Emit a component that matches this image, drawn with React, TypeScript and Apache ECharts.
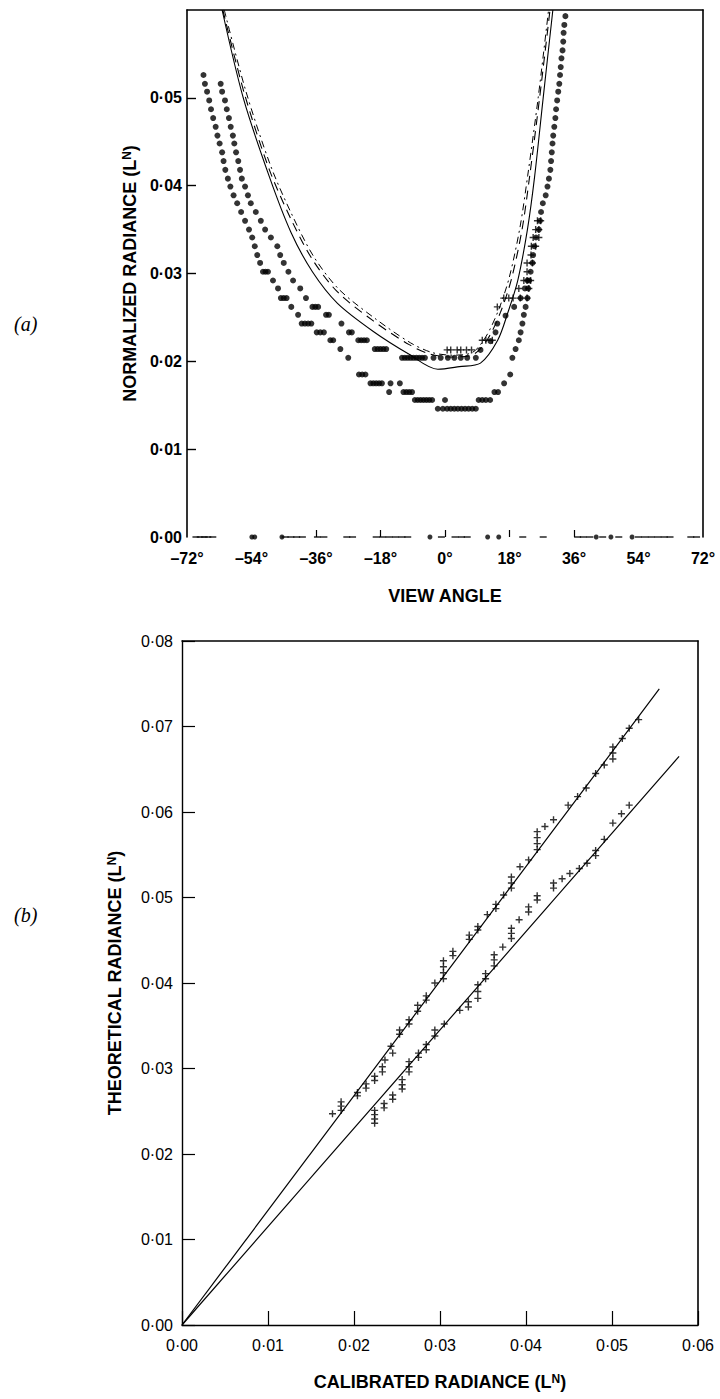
import React, { useEffect, useRef } from "react";
import * as echarts from "echarts";

// ---------- (a) view angle vs normalized radiance ----------
const angleTicks = [-72, -54, -36, -18, 0, 18, 36, 54, 72];
const curveSolid: [number, number][] = [
  [-62.2, 0.06], [-56.3, 0.05], [-49.0, 0.041], [-43.0, 0.0347], [-37.0, 0.0302], [-30.0, 0.0266],
  [-20.0, 0.0234], [-10.0, 0.0208], [-2.0, 0.0191], [4.0, 0.0194], [9.9, 0.0198], [14.7, 0.0224],
  [17.5, 0.0255], [20.3, 0.0292], [23.0, 0.035], [25.0, 0.041], [27.4, 0.05], [30.1, 0.06],
];
const curveDashed: [number, number][] = [
  [-62.0, 0.06], [-56.0, 0.0505], [-49.0, 0.0418], [-43.0, 0.0362], [-37.0, 0.0316], [-30.0, 0.0279],
  [-20.0, 0.0246], [-10.0, 0.0219], [-4.0, 0.0208], [2.0, 0.0205], [8.0, 0.0208], [12.0, 0.0226],
  [15.5, 0.0256], [18.5, 0.0293], [21.5, 0.035], [23.6, 0.041], [26.4, 0.05], [29.3, 0.06],
];
const curveDashDot: [number, number][] = [
  [-61.6, 0.06], [-55.6, 0.0508], [-48.6, 0.0422], [-42.6, 0.0366], [-36.6, 0.0319], [-29.6, 0.0282],
  [-19.6, 0.0249], [-9.6, 0.0221], [-3.6, 0.021], [2.0, 0.0207], [7.6, 0.021], [11.4, 0.0228],
  [14.9, 0.0258], [17.9, 0.0295], [20.9, 0.0352], [23.1, 0.0412], [26.0, 0.05], [28.9, 0.06],
];
const pointsLower: [number, number][] = [
  [-67.4, 0.0526], [-67.0, 0.0516], [-66.4, 0.0507], [-65.8, 0.0497], [-65.3, 0.0487], [-64.7, 0.0477],
  [-64.0, 0.0467], [-63.5, 0.0457], [-62.9, 0.0448], [-62.2, 0.0438], [-61.8, 0.0428], [-61.3, 0.0418],
  [-60.6, 0.0408], [-59.9, 0.0399], [-59.0, 0.0389], [-58.0, 0.038], [-56.9, 0.037], [-55.8, 0.036],
  [-54.7, 0.035], [-53.8, 0.0341], [-53.1, 0.0331], [-52.4, 0.0321], [-51.6, 0.0312], [-50.8, 0.0302],
  [-50.1, 0.0302], [-49.4, 0.0302], [-48.0, 0.0292], [-46.6, 0.0283], [-45.8, 0.0272], [-45.0, 0.0272],
  [-44.2, 0.0272], [-42.9, 0.0262], [-41.0, 0.0253], [-40.0, 0.0243], [-39.1, 0.0243], [-38.2, 0.0243],
  [-37.3, 0.0243], [-35.8, 0.0233], [-34.8, 0.0233], [-33.8, 0.0233], [-32.0, 0.0224], [-31.2, 0.0224],
  [-29.2, 0.0214], [-27.0, 0.0204], [-24.0, 0.0185], [-23.1, 0.0185], [-22.2, 0.0185], [-20.8, 0.0175],
  [-20.0, 0.0175], [-19.2, 0.0175], [-18.4, 0.0175], [-17.6, 0.0175], [-15.2, 0.0175], [-12.6, 0.0175],
  [-15.6, 0.0165], [-11.6, 0.0165], [-10.8, 0.0165], [-10.0, 0.0165], [-9.2, 0.0165], [-8.4, 0.0156],
  [-7.6, 0.0156], [-6.8, 0.0156], [-6.0, 0.0156], [-5.2, 0.0156], [-4.4, 0.0156], [-3.6, 0.0156],
  [0.0, 0.0156], [-2.0, 0.0146], [-0.6, 0.0146], [0.6, 0.0146], [1.6, 0.0146], [2.6, 0.0146],
  [3.6, 0.0146], [4.6, 0.0146], [5.6, 0.0146], [6.6, 0.0146], [7.6, 0.0146], [8.6, 0.0146],
  [9.4, 0.0156], [10.4, 0.0156], [11.4, 0.0156], [12.6, 0.0156], [13.8, 0.0165], [14.8, 0.0165],
  [16.5, 0.0175], [18.2, 0.0185], [18.8, 0.0204], [19.7, 0.0214], [20.6, 0.0224], [21.1, 0.0233],
  [21.6, 0.0243], [22.0, 0.0253], [22.5, 0.0262], [23.0, 0.0272], [23.2, 0.0283], [23.5, 0.0292],
  [23.9, 0.0302], [24.4, 0.0312], [24.6, 0.0321], [24.9, 0.0331], [25.4, 0.0341], [26.2, 0.035],
  [26.5, 0.036], [26.8, 0.037], [27.3, 0.038], [28.1, 0.0389], [28.6, 0.0399], [29.0, 0.0408],
  [29.4, 0.0418], [29.6, 0.0428], [29.8, 0.0438], [30.0, 0.0448], [30.2, 0.0457], [30.5, 0.0467],
  [30.8, 0.0477], [31.0, 0.0487], [31.3, 0.0497], [31.6, 0.0507], [31.9, 0.0516], [32.1, 0.0526],
  [32.3, 0.0535], [32.5, 0.0545], [32.8, 0.0554], [33.0, 0.0564], [33.1, 0.0574], [33.3, 0.0583],
  [33.6, 0.0593],
];
const pointsMiddle: [number, number][] = [
  [-62.6, 0.0516], [-62.2, 0.0507], [-61.4, 0.0497], [-60.9, 0.0487], [-60.3, 0.0477], [-59.8, 0.0467],
  [-59.2, 0.0457], [-58.8, 0.0448], [-58.3, 0.0438], [-57.7, 0.0428], [-57.2, 0.0418], [-56.7, 0.0408],
  [-55.8, 0.0399], [-55.0, 0.0389], [-54.2, 0.038], [-52.8, 0.037], [-51.4, 0.036], [-50.2, 0.035],
  [-48.6, 0.0341], [-46.8, 0.0331], [-46.0, 0.0321], [-45.0, 0.0312], [-43.7, 0.0302], [-42.4, 0.0292],
  [-40.4, 0.0283], [-38.8, 0.0272], [-37.0, 0.0262], [-36.2, 0.0262], [-35.4, 0.0262], [-33.2, 0.0253],
  [-32.4, 0.0253], [-28.9, 0.0243], [-26.8, 0.0233], [-26.0, 0.0233], [-24.2, 0.0224], [-23.4, 0.0224],
  [-22.6, 0.0224], [-21.8, 0.0224], [-19.6, 0.0214], [-18.8, 0.0214], [-18.0, 0.0214], [-17.2, 0.0214],
  [-16.4, 0.0214], [-12.0, 0.0204], [-11.2, 0.0204], [-10.4, 0.0204], [-9.6, 0.0204], [-8.8, 0.0204],
  [-8.0, 0.0204], [-7.2, 0.0204], [-6.4, 0.0204], [-5.6, 0.0204], [-3.2, 0.0204], [-1.2, 0.0204],
  [0.8, 0.0204], [2.6, 0.0204], [4.4, 0.0204], [6.2, 0.0204], [8.6, 0.0204], [9.9, 0.0213],
  [12.7, 0.0223], [14.1, 0.0233], [14.6, 0.0243], [16.9, 0.0252], [19.3, 0.0262], [21.1, 0.0272],
  [22.3, 0.0283], [23.0, 0.0292],
];
const pointsUpper: [number, number][] = [
  [0.6, 0.0213], [1.6, 0.0213], [3.4, 0.0213], [4.4, 0.0213], [6.0, 0.0213], [7.4, 0.0213],
  [10.4, 0.0224], [11.4, 0.0224], [13.2, 0.0224], [14.6, 0.0262], [16.4, 0.0272], [17.8, 0.0272],
  [19.0, 0.0272], [21.0, 0.0272], [22.9, 0.0272], [20.6, 0.0283], [23.4, 0.0283], [22.0, 0.0292],
  [22.9, 0.0292], [23.9, 0.0292], [22.9, 0.0302], [22.9, 0.0312], [24.4, 0.0312], [24.0, 0.0321],
  [24.1, 0.0331], [25.3, 0.0331], [24.6, 0.0341], [26.2, 0.0341], [25.3, 0.035], [26.2, 0.035],
  [25.8, 0.036], [26.7, 0.036],
];
const baselineDashes: number[] = [
  -69.5, -68.3, -67.2, -66.2, -64.8, -44.6, -43.0, -41.4, -39.8, -35.6, -33.8, -27.4, -25.8, -19.2,
  -17.4, -15.6, -13.8, -12.0, -10.4, -1.0, 2.8, 4.6, 6.2, 21.7, 27.4, 37.0, 38.6, 40.4, 44.0, 48.5,
  54.0, 55.8, 57.6, 59.4, 61.2, 62.8, 68.6, 70.2,
];
const baselineDots: number[] = [-53.9, -53.1, -45.5, -4.2, 11.9, 15.0, 42.2, 46.3, 52.2];

// ---------- (b) calibrated vs theoretical radiance ----------
const lineUpper: [number, number][] = [[0, 0], [0.0555, 0.0744]];
const lineLower: [number, number][] = [[0, 0], [0.0578, 0.0665]];
const clusterUpper: [number, number][] = [
  [0.0175, 0.0247], [0.0185, 0.0251], [0.0185, 0.0256], [0.0185, 0.0261], [0.0204, 0.0268], [0.0204, 0.0272],
  [0.0214, 0.0277], [0.0214, 0.0282], [0.0224, 0.0286], [0.0224, 0.0291], [0.0233, 0.0296], [0.0233, 0.0302],
  [0.0236, 0.031], [0.0245, 0.0318], [0.0243, 0.0326], [0.0253, 0.034], [0.0253, 0.0345], [0.0264, 0.0352],
  [0.0264, 0.0357], [0.0274, 0.0367], [0.0274, 0.0374], [0.0284, 0.038], [0.0284, 0.0385], [0.0294, 0.04],
  [0.0304, 0.0405], [0.0304, 0.0412], [0.0304, 0.0419], [0.0304, 0.0426], [0.0315, 0.0432], [0.0315, 0.0437],
  [0.0334, 0.0451], [0.0334, 0.0456], [0.0344, 0.0462], [0.0344, 0.0466], [0.0355, 0.048], [0.0365, 0.0487],
  [0.0365, 0.0492], [0.0374, 0.0503], [0.0383, 0.0511], [0.0383, 0.0517], [0.0383, 0.0524], [0.0393, 0.0536],
  [0.0403, 0.0544], [0.0413, 0.0556], [0.0413, 0.0563], [0.0413, 0.057], [0.0413, 0.0577], [0.0422, 0.0583],
  [0.0432, 0.0591], [0.0449, 0.0608], [0.046, 0.0618], [0.047, 0.0628], [0.0481, 0.0645], [0.0491, 0.0655],
  [0.0501, 0.0662], [0.0501, 0.0669], [0.0501, 0.0676], [0.0512, 0.0686], [0.052, 0.0698], [0.0531, 0.0708],
];
const clusterLower: [number, number][] = [
  [0.0224, 0.0236], [0.0224, 0.0241], [0.0224, 0.0246], [0.0224, 0.0251], [0.0235, 0.0254], [0.0235, 0.0259],
  [0.0245, 0.0264], [0.0245, 0.0269], [0.0256, 0.0276], [0.0256, 0.0281], [0.0256, 0.0287], [0.0264, 0.0296],
  [0.0264, 0.0302], [0.0264, 0.0308], [0.0275, 0.0313], [0.0275, 0.0318], [0.0284, 0.0322], [0.0284, 0.0328],
  [0.0294, 0.0338], [0.0294, 0.0345], [0.0305, 0.0352], [0.0323, 0.0368], [0.0333, 0.0372], [0.0333, 0.0378],
  [0.0344, 0.0382], [0.0344, 0.039], [0.0344, 0.0398], [0.0353, 0.0405], [0.0353, 0.0411], [0.0363, 0.042],
  [0.0363, 0.0427], [0.0363, 0.0433], [0.0373, 0.0442], [0.0383, 0.0452], [0.0383, 0.0458], [0.0383, 0.0464],
  [0.0392, 0.0474], [0.0403, 0.0483], [0.0403, 0.0489], [0.0413, 0.0497], [0.0413, 0.0502], [0.0432, 0.0511],
  [0.0432, 0.0517], [0.0442, 0.0522], [0.0451, 0.0528], [0.0462, 0.0534], [0.0471, 0.054], [0.0481, 0.0549],
  [0.0481, 0.0555], [0.0491, 0.0568], [0.0501, 0.0587], [0.0511, 0.0598], [0.052, 0.0608],
];
const calibTicks = [0, 0.01, 0.02, 0.03, 0.04, 0.05, 0.06];
const theorTicks = [0, 0.01, 0.02, 0.03, 0.04, 0.05, 0.06, 0.07, 0.08];

const PLUS = "path://M4,0H6V4H10V6H6V10H4V6H0V4H4Z";
const FONT = "Liberation Sans";
const dot = (v: number) => v.toFixed(2).replace(".", "·");

export default function App() {
  const ref = useRef<HTMLDivElement>(null);
  useEffect(() => {
    if (!ref.current) return;
    const chart = echarts.init(ref.current, undefined, { renderer: "svg" });
    const black = "#000";
    const border = { show: true, onZero: false, lineStyle: { color: black, width: 1.6 } };
    const hidden = { show: false };
    const supRich = {
      s: { fontSize: 12, fontWeight: "bold", fontFamily: FONT, color: black, verticalAlign: "top", lineHeight: 12 },
    };
    const topName = { fontSize: 18, fontWeight: "bold", fontFamily: FONT, color: black, rich: supRich };
    chart.setOption({
      animation: false,
      backgroundColor: "#fff",
      grid: [
        { left: 187, width: 516, top: 10, height: 527 },
        { left: 182, width: 516, top: 641, height: 684 },
      ],
      xAxis: [
        {
          gridIndex: 0, type: "value", min: -72, max: 72, interval: 18,
          axisLine: { show: false, onZero: false }, splitLine: hidden,
          axisTick: { show: true, inside: true, length: 7, customValues: [-36, -18, 0, 18, 36], lineStyle: { color: black, width: 1.2 } },
          axisLabel: {
            customValues: angleTicks, margin: 13, fontSize: 16, fontWeight: "bold", fontFamily: FONT, color: black,
            formatter: (v: number) => (v < 0 ? "–" + Math.abs(v) : String(v)) + "°",
          },
          name: "VIEW ANGLE", nameLocation: "middle", nameGap: 50,
          nameTextStyle: { fontSize: 18, fontWeight: "bold", fontFamily: FONT, color: black },
        },
        {
          gridIndex: 0, type: "value", min: -72, max: 72, position: "top",
          axisLine: border, axisTick: hidden, axisLabel: hidden, splitLine: hidden,
        },
        {
          gridIndex: 1, type: "value", min: 0, max: 0.06, interval: 0.01,
          axisLine: { show: true, onZero: false, lineStyle: { color: black, width: 1.4 } }, splitLine: hidden,
          axisTick: { show: true, inside: true, length: 14, lineStyle: { color: black, width: 1.2 } },
          axisLabel: { customValues: calibTicks, margin: 12, fontSize: 16, fontFamily: FONT, color: black, formatter: dot },
          name: "CALIBRATED RADIANCE (L{s|N})", nameLocation: "middle", nameGap: 48,
          nameTextStyle: topName,
        },
        {
          gridIndex: 1, type: "value", min: 0, max: 0.06, position: "top",
          axisLine: border, axisTick: hidden, axisLabel: hidden, splitLine: hidden,
        },
      ],
      yAxis: [
        {
          gridIndex: 0, type: "value", min: 0, max: 0.06, interval: 0.01,
          axisLine: border, splitLine: hidden,
          axisTick: { show: true, inside: true, length: 9, customValues: [0.01, 0.02, 0.03, 0.04, 0.05], lineStyle: { color: black, width: 1.4 } },
          axisLabel: {
            customValues: [0, 0.01, 0.02, 0.03, 0.04, 0.05], margin: 5, fontSize: 16, fontWeight: "bold",
            fontFamily: FONT, color: black, formatter: dot,
          },
          name: "NORMALIZED RADIANCE (L{s|N})", nameLocation: "middle", nameGap: 47,
          nameTextStyle: topName,
        },
        {
          gridIndex: 0, type: "value", min: 0, max: 0.06, position: "right",
          axisLine: border, axisTick: hidden, axisLabel: hidden, splitLine: hidden,
        },
        {
          gridIndex: 1, type: "value", min: 0, max: 0.08, interval: 0.01,
          axisLine: { show: true, onZero: false, lineStyle: { color: black, width: 1.4 } }, splitLine: hidden,
          axisTick: { show: true, inside: true, length: 13, lineStyle: { color: black, width: 1.2 } },
          axisLabel: { customValues: theorTicks, margin: 9, fontSize: 16, fontFamily: FONT, color: black, formatter: dot },
          name: "THEORETICAL RADIANCE (L{s|N})", nameLocation: "middle", nameGap: 58,
          nameTextStyle: topName,
        },
        {
          gridIndex: 1, type: "value", min: 0, max: 0.08, position: "right",
          axisLine: border, axisTick: hidden, axisLabel: hidden, splitLine: hidden,
        },
      ],
      series: [
        { type: "line", xAxisIndex: 0, yAxisIndex: 0, data: curveSolid, smooth: 0.3, showSymbol: false, lineStyle: { color: black, width: 1.1 } },
        { type: "line", xAxisIndex: 0, yAxisIndex: 0, data: curveDashed, smooth: 0.3, showSymbol: false, lineStyle: { color: black, width: 1.1, type: [9, 6] } },
        { type: "line", xAxisIndex: 0, yAxisIndex: 0, data: curveDashDot, smooth: 0.3, showSymbol: false, lineStyle: { color: black, width: 1.0, type: [7, 4, 2, 4] } },
        { type: "scatter", xAxisIndex: 0, yAxisIndex: 0, data: pointsLower, symbol: "circle", symbolSize: 6, itemStyle: { color: black } },
        { type: "scatter", xAxisIndex: 0, yAxisIndex: 0, data: pointsMiddle, symbol: "circle", symbolSize: 6, itemStyle: { color: black } },
        { type: "scatter", xAxisIndex: 0, yAxisIndex: 0, data: pointsUpper, symbol: PLUS, symbolSize: 7, itemStyle: { color: black } },
        { type: "scatter", xAxisIndex: 0, yAxisIndex: 0, data: baselineDashes.map((a) => [a, 0]), symbol: "rect", symbolSize: [7, 1.6], itemStyle: { color: black } },
        { type: "scatter", xAxisIndex: 0, yAxisIndex: 0, data: baselineDots.map((a) => [a, 0]), symbol: "circle", symbolSize: 5, itemStyle: { color: black } },
        { type: "line", xAxisIndex: 2, yAxisIndex: 2, data: lineUpper, showSymbol: false, lineStyle: { color: black, width: 1.2 } },
        { type: "line", xAxisIndex: 2, yAxisIndex: 2, data: lineLower, showSymbol: false, lineStyle: { color: black, width: 1.2 } },
        { type: "scatter", xAxisIndex: 2, yAxisIndex: 2, data: clusterUpper, symbol: PLUS, symbolSize: 7, itemStyle: { color: black } },
        { type: "scatter", xAxisIndex: 2, yAxisIndex: 2, data: clusterLower, symbol: PLUS, symbolSize: 7, itemStyle: { color: black } },
      ],
      graphic: [
        { type: "text", left: 14, top: 314, style: { text: "(a)", font: "italic 20px 'Liberation Serif'", fill: black } },
        { type: "text", left: 14, top: 905, style: { text: "(b)", font: "italic 20px 'Liberation Serif'", fill: black } },
      ],
    });
    return () => chart.dispose();
  }, []);
  return <div ref={ref} style={{ position: "absolute", left: 0, top: 0, width: 720, height: 1399, background: "#fff" }} />;
}
